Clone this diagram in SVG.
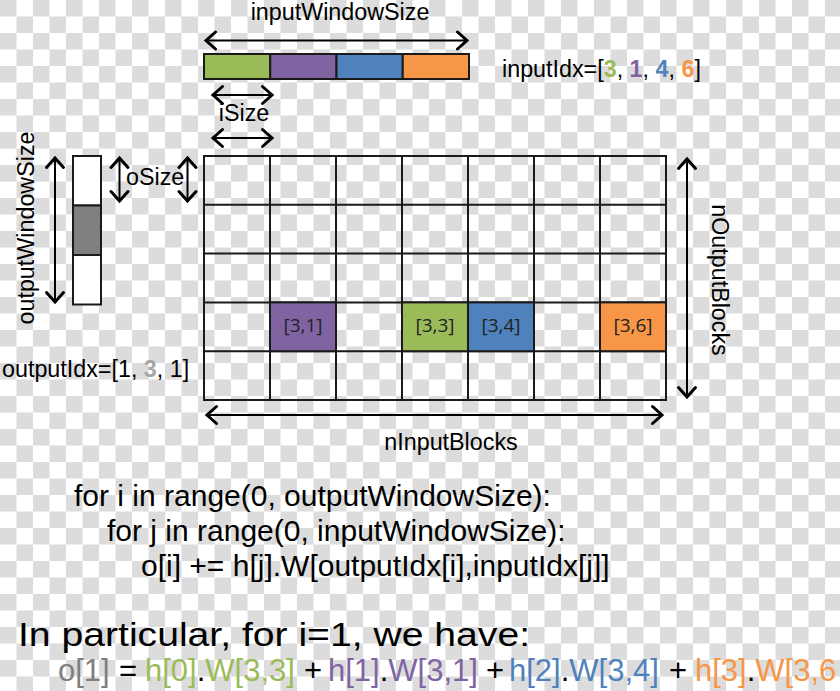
<svg xmlns="http://www.w3.org/2000/svg" width="840" height="691" viewBox="0 0 840 691">
<defs>
<pattern id="cb" width="33" height="33" patternUnits="userSpaceOnUse">
<rect width="33" height="33" fill="#ffffff"/>
<rect width="16.5" height="16.5" fill="#dcdcdc"/>
<rect x="16.5" y="16.5" width="16.5" height="16.5" fill="#dcdcdc"/>
</pattern>
<marker id="ah" viewBox="-14 -11 17 22" refX="0" refY="0" markerWidth="17" markerHeight="22" orient="auto-start-reverse" markerUnits="userSpaceOnUse">
<path d="M-9.5,-8.5 L0,0 L-9.5,8.5" fill="none" stroke="#000" stroke-width="3" stroke-linecap="round" stroke-linejoin="miter"/>
</marker>
<style>
.t{font-family:"Liberation Sans",Arial,sans-serif;fill:#000}
.lbl{font-size:23.3px}
.code{font-size:30px}
.cell{stroke:#1a1a1a;stroke-width:2}
.cl{font-family:"Open Sans","Liberation Sans",sans-serif;font-size:19px;fill:#222;text-anchor:middle}
.arr{stroke:#000;stroke-width:2;fill:none;marker-start:url(#ah);marker-end:url(#ah)}
.g{fill:#9bbb59}.p{fill:#8064a2}.b{fill:#4f81bd}.o{fill:#f79646}
</style>
</defs>
<rect width="840" height="691" fill="url(#cb)"/>

<g id="input-window">
<rect x="204" y="54" width="66.25" height="25" class="cell g"/>
<rect x="270.25" y="54" width="66.25" height="25" class="cell p"/>
<rect x="336.5" y="54" width="66.25" height="25" class="cell b"/>
<rect x="402.75" y="54" width="66.25" height="25" class="cell o"/>
</g>

<g id="output-window">
<rect x="73" y="156" width="28" height="49.5" class="cell" fill="#ffffff"/>
<rect x="73" y="205.5" width="28" height="49.5" class="cell" fill="#7f7f7f"/>
<rect x="73" y="255" width="28" height="49.5" class="cell" fill="#ffffff"/>
</g>

<g id="matrix" fill="none" stroke="#1a1a1a" stroke-width="2">
<rect x="204" y="156" width="462" height="244"/>
<path d="M270,156V400M336,156V400M402,156V400M468,156V400M534,156V400M600,156V400"/>
<path d="M204,204.8H666M204,253.6H666M204,302.4H666M204,351.2H666"/>
</g>

<g id="cell-3-1"><rect x="270" y="302.4" width="66" height="48.8" class="cell p"/><text x="303" y="331.5" class="cl">[3,1]</text></g>
<g id="cell-3-3"><rect x="402" y="302.4" width="66" height="48.8" class="cell g"/><text x="435" y="331.5" class="cl">[3,3]</text></g>
<g id="cell-3-4"><rect x="468" y="302.4" width="66" height="48.8" class="cell b"/><text x="501" y="331.5" class="cl">[3,4]</text></g>
<g id="cell-3-6"><rect x="600" y="302.4" width="66" height="48.8" class="cell o"/><text x="633" y="331.5" class="cl">[3,6]</text></g>

<g id="connectors">
<line x1="206" y1="40.5" x2="467" y2="40.5" class="arr"/>
<line x1="213" y1="95" x2="272" y2="95" class="arr"/>
<line x1="213" y1="138" x2="272" y2="138" class="arr"/>
<line x1="55" y1="158" x2="55" y2="302" class="arr"/>
<line x1="119.5" y1="158" x2="119.5" y2="201" class="arr"/>
<line x1="187.5" y1="158" x2="187.5" y2="201" class="arr"/>
<line x1="687" y1="159" x2="687" y2="397" class="arr"/>
<line x1="207" y1="415" x2="662" y2="415" class="arr"/>
</g>

<g id="labels">
<text x="340" y="20" class="t lbl" text-anchor="middle">inputWindowSize</text>
<text x="244" y="121" class="t lbl" text-anchor="middle">iSize</text>
<text x="126" y="185" class="t lbl">oSize</text>
<text x="502" y="77" class="t lbl">inputIdx=[<tspan class="g" font-weight="bold">3</tspan>, <tspan class="p" font-weight="bold">1</tspan>, <tspan class="b" font-weight="bold">4</tspan>, <tspan class="o" font-weight="bold">6</tspan>]</text>
<text x="2" y="377" class="t lbl">outputIdx=[1, <tspan fill="#a6a6a6" font-weight="bold">3</tspan>, 1]</text>
<text transform="translate(34,228) rotate(-90)" class="t lbl" text-anchor="middle">outputWindowSize</text>
<text transform="translate(712,280) rotate(90)" class="t lbl" text-anchor="middle">nOutputBlocks</text>
<text x="451" y="450" class="t lbl" text-anchor="middle">nInputBlocks</text>
<text x="74" y="506" class="t code">for i in range(0, outputWindowSize):</text>
<text x="107" y="541" class="t code">for j in range(0, inputWindowSize):</text>
<text x="141" y="576" class="t code">o[i] += h[j].W[outputIdx[i],inputIdx[j]]</text>
<text x="18" y="646" class="t" font-size="33" textLength="512" lengthAdjust="spacingAndGlyphs">In particular, for i=1, we have:</text>
<text y="681" class="t" font-size="31"><tspan x="58" fill="#7f7f7f">o[1]</tspan><tspan x="119">=</tspan><tspan x="145" class="g">h[0]</tspan>.<tspan class="g">W[3,3]</tspan><tspan x="304">+</tspan><tspan x="328" class="p">h[1]</tspan>.<tspan class="p">W[3,1]</tspan><tspan x="486">+</tspan><tspan x="509" class="b">h[2]</tspan>.<tspan class="b">W[3,4]</tspan><tspan x="669">+</tspan><tspan x="695" class="o">h[3]</tspan>.<tspan class="o">W[3,6</tspan></text>
</g>
</svg>
